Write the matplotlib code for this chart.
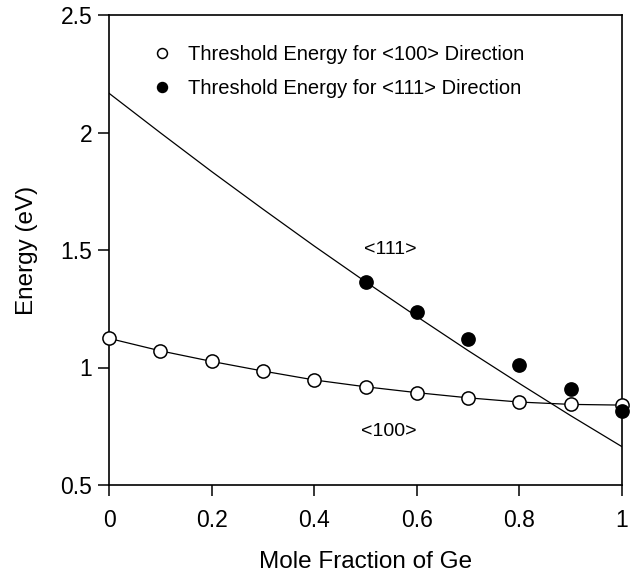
import matplotlib
matplotlib.use("Agg")
import matplotlib.pyplot as plt

plt.rcParams['font.family'] = ['Liberation Sans', 'DejaVu Sans']

# mole fraction of Ge
x_all = [0.0, 0.1, 0.2, 0.3, 0.4, 0.5, 0.6, 0.7, 0.8, 0.9, 1.0]
# threshold energy, <100> direction (open circles)
e100 = [1.124, 1.071, 1.026, 0.985, 0.947, 0.918, 0.893, 0.871, 0.853, 0.843, 0.840]
# threshold energy, <111> direction (filled circles)
x111 = [0.5, 0.6, 0.7, 0.8, 0.9, 1.0]
e111 = [1.365, 1.236, 1.120, 1.011, 0.910, 0.817]
# fitted curve for <111>
fit111 = [2.167, 1.999, 1.834, 1.674, 1.517, 1.365, 1.217, 1.072, 0.932, 0.795, 0.663]

xticks = [0, 0.2, 0.4, 0.6, 0.8, 1]
xticklabels = ['0', '0.2', '0.4', '0.6', '0.8', '1']
yticks = [0.5, 1, 1.5, 2, 2.5]
yticklabels = ['0.5', '1', '1.5', '2', '2.5']

fig = plt.figure(figsize=(6.35, 5.77), dpi=100)
ax = fig.add_axes([109/635, 1-485/577, 513/635, 470/577])

ax.plot(x_all, e100, color='black', lw=0.9, zorder=2)
ax.plot(x_all, fit111, color='black', lw=0.9, zorder=2)
ax.plot(x_all, e100, 'o', ms=9.5, mfc='white', mec='black', mew=1.1,
        label='Threshold Energy for <100> Direction', zorder=3, clip_on=False)
ax.plot(x111, e111, 'o', ms=9.5, mfc='black', mec='black', mew=1.1,
        label='Threshold Energy for <111> Direction', zorder=4, clip_on=False)

ax.text(0.548, 1.50, '<111>', fontsize=14, ha='center', va='center')
ax.text(0.546, 0.728, '<100>', fontsize=14, ha='center', va='center')

ax.set_xlim(0, 1)
ax.set_ylim(0.5, 2.5)
ax.set_xticks(xticks)
ax.set_xticklabels(xticklabels)
ax.set_yticks(yticks)
ax.set_yticklabels(yticklabels)
ax.tick_params(axis='x', direction='out', length=8, width=1.1, pad=9, labelsize=16.5)
ax.tick_params(axis='y', direction='out', length=8, width=1.1, pad=4, labelsize=16.5)
for sp in ax.spines.values():
    sp.set_linewidth(1.2)

ax.set_xlabel('Mole Fraction of Ge', fontsize=17.5, labelpad=14)
ax.set_ylabel('Energy (eV)', fontsize=17.5, labelpad=16)

leg = ax.legend(loc='upper left', bbox_to_anchor=(0.083, 0.937), frameon=False,
                fontsize=14.5, handlelength=1.0, handletextpad=0.8,
                labelspacing=0.78, borderpad=0, borderaxespad=0, markerscale=0.75)

fig.savefig('out.png', dpi=100)
